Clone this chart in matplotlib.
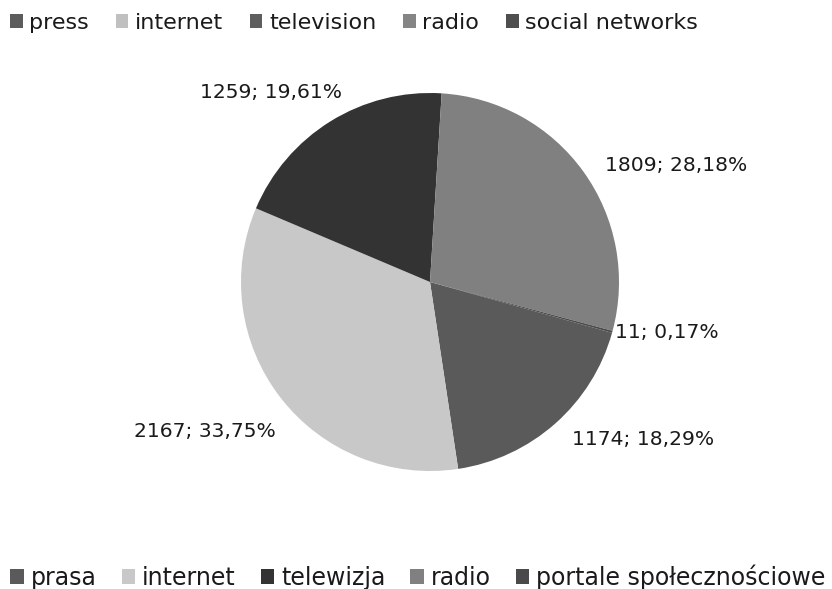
import matplotlib.pyplot as plt
from matplotlib.patches import Patch
import numpy as np

# dane: liczba wskazań i kolory wycinków
labels_pl = ['prasa', 'internet', 'telewizja', 'radio', 'portale społecznościowe']
labels_en = ['press', 'internet', 'television', 'radio', 'social networks']
values = [1174, 2167, 1259, 1809, 11]
colors = ['#5a5a5a', '#c8c8c8', '#333333', '#808080', '#4a4a4a']
colors_en = ['#5c5c5c', '#c0c0c0', '#5e5e5e', '#858585', '#4e4e4e']

plt.rcParams['font.family'] = ['DejaVu Sans']

fig = plt.figure(figsize=(8.32, 5.89), dpi=100)
ax = fig.add_axes([241 / 832, 118 / 589, 378 / 832, 378 / 589])

wedges, _ = ax.pie(values, colors=colors, startangle=-15.6, counterclock=False,
                   radius=1, wedgeprops=dict(linewidth=0))
ax.set_xlim(-1, 1)
ax.set_ylim(-1, 1)
ax.set_aspect('equal')

# etykiety "wartość; procent" przesunięte od krawędzi wycinka (w pikselach)
total = sum(values)
offsets = [(88, -16), (-76, -34), (-60, 29), (93, 6), (55, -1)]
for w, v, off in zip(wedges, values, offsets):
    ang = np.deg2rad((w.theta1 + w.theta2) / 2)
    pct = f'{100 * v / total:.2f}'.replace('.', ',')
    ax.annotate(f'{v}; {pct}%', xy=(np.cos(ang), np.sin(ang)), xytext=off,
                textcoords='offset pixels', ha='center', va='center',
                fontsize=14.6, color='#1a1a1a', annotation_clip=False)

leg_kw = dict(ncol=5, frameon=False, handlelength=0.57, handleheight=0.57,
              handletextpad=0.3, labelcolor='#1a1a1a', borderaxespad=0)

h_en = [Patch(facecolor=c, edgecolor='none') for c in colors_en]
fig.legend(h_en, labels_en, loc='center left', bbox_to_anchor=(1 / 832, 1 - 23 / 589),
           fontsize=16, columnspacing=1.2, **leg_kw)

h_pl = [Patch(facecolor=c, edgecolor='none') for c in colors]
fig.legend(h_pl, labels_pl, loc='center left', bbox_to_anchor=(1 / 832, 1 - 577 / 589),
           fontsize=17, columnspacing=1.05, **leg_kw)

fig.savefig('out.png', dpi=100)
